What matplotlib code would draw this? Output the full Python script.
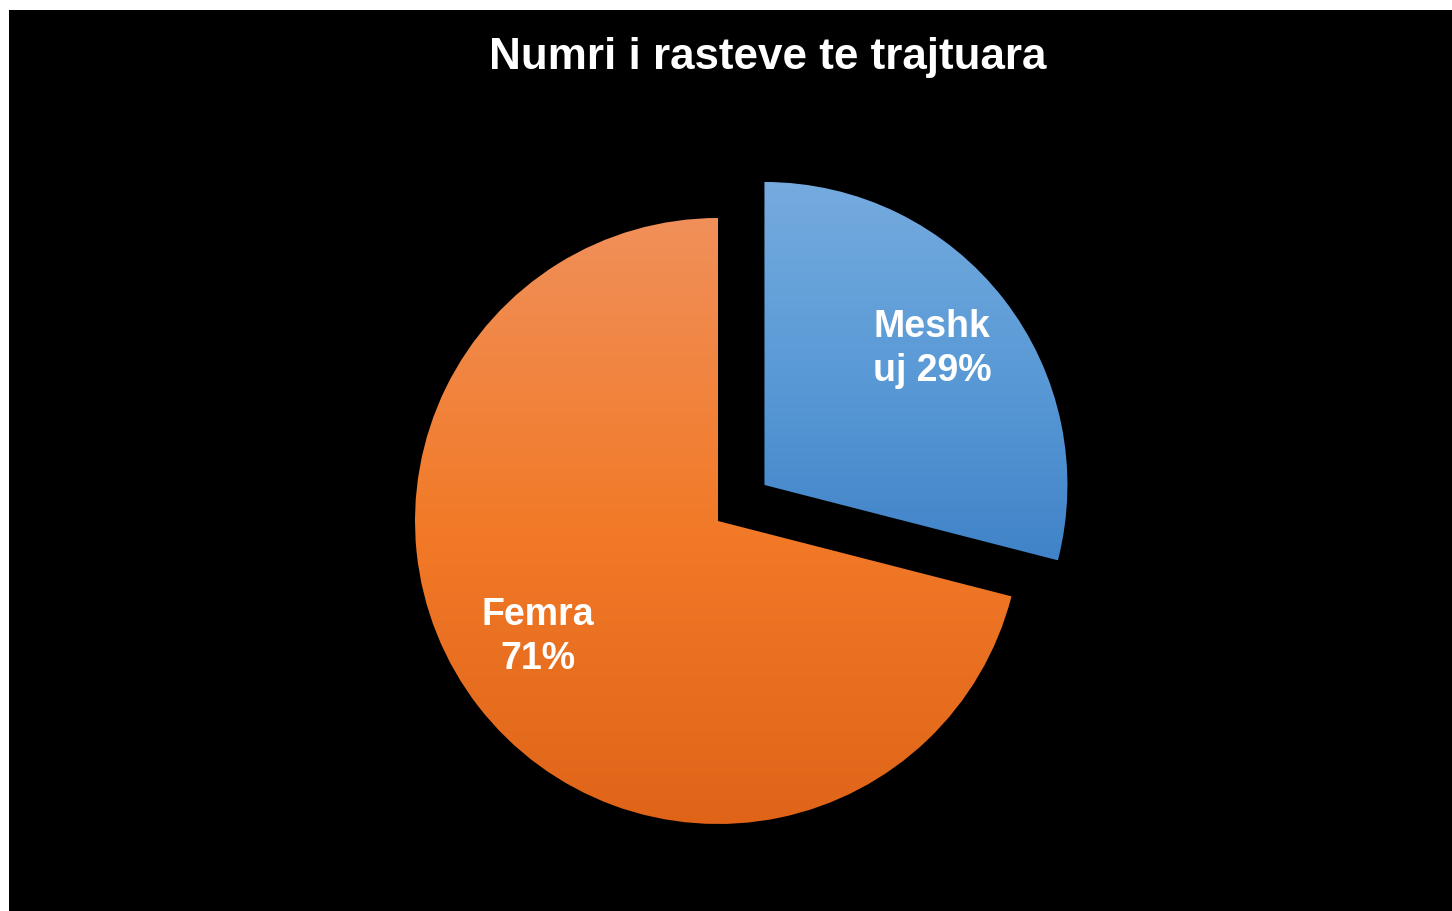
import numpy as np
import matplotlib.pyplot as plt
from matplotlib.colors import LinearSegmentedColormap
from matplotlib.patches import Rectangle

# Data
labels = ['Meshk\nuj', 'Femra']
values = [29, 71]
explode = [0.194, 0]
top_colors = ['#75abdf', '#f0905a']
mid_colors = ['#5a9ad6', '#f27a28']
bottom_colors = ['#4083c8', '#df6418']

title = 'Numri i rasteve te trajtuara'

plt.rcParams['font.family'] = ['Liberation Sans', 'DejaVu Sans']

W, H = 1452, 911
R = 303.0
cx, cy = 718, 521  # pie centre in pixels (from top-left)

fig = plt.figure(figsize=(W / 100, H / 100), dpi=100)
fig.patch.set_facecolor('white')
fig.patches.append(Rectangle((9 / W, 0), 1 - 9 / W, 1 - 10 / H,
                             transform=fig.transFigure, facecolor='black',
                             edgecolor='none', zorder=-1))

ax = fig.add_axes([0, 0, 1, 1])
ax.set_zorder(1)
ax.set_facecolor('none')
ax.axis('off')

wedges, texts = ax.pie(values, explode=explode, startangle=90, counterclock=False,
                       radius=1, wedgeprops=dict(linewidth=0))

# vertical gradient fill over each wedge's own bounding box
for w, c_top, c_mid, c_bot in zip(wedges, top_colors, mid_colors, bottom_colors):
    cmap = LinearSegmentedColormap.from_list('g', [c_bot, c_mid, c_top])
    verts = w.get_path().vertices
    ymin, ymax = verts[:, 1].min(), verts[:, 1].max()
    xmin, xmax = verts[:, 0].min(), verts[:, 0].max()
    grad = np.linspace(0, 1, 256).reshape(-1, 1)
    im = ax.imshow(grad, cmap=cmap, origin='lower', aspect='auto',
                   extent=[xmin, xmax, ymin, ymax], zorder=2)
    w.set_facecolor('none')
    im.set_clip_path(w)

ax.set_xlim(-cx / R, (W - cx) / R)
ax.set_ylim(-(H - cy) / R, cy / R)
ax.set_aspect('equal')

# percentage labels
pct_pos = [(932, 349), (538, 637)]
for (lx, ly), lab, v in zip(pct_pos, labels, values):
    if lab.startswith('Meshk'):
        txt = f'Meshk\nuj {v}%'
    else:
        txt = f'{lab}\n{v}%'
    ax.text((lx - cx) / R, (cy - ly) / R, txt, color='white', fontsize=27,
            fontweight='bold', ha='center', va='center', linespacing=1.27,
            zorder=5)

fig.text(768 / W, 1 - 58 / H, title, color='white', fontsize=31.7,
         fontweight='bold', ha='center', va='center', zorder=3)

fig.savefig('out.png', dpi=100, facecolor=fig.get_facecolor())
